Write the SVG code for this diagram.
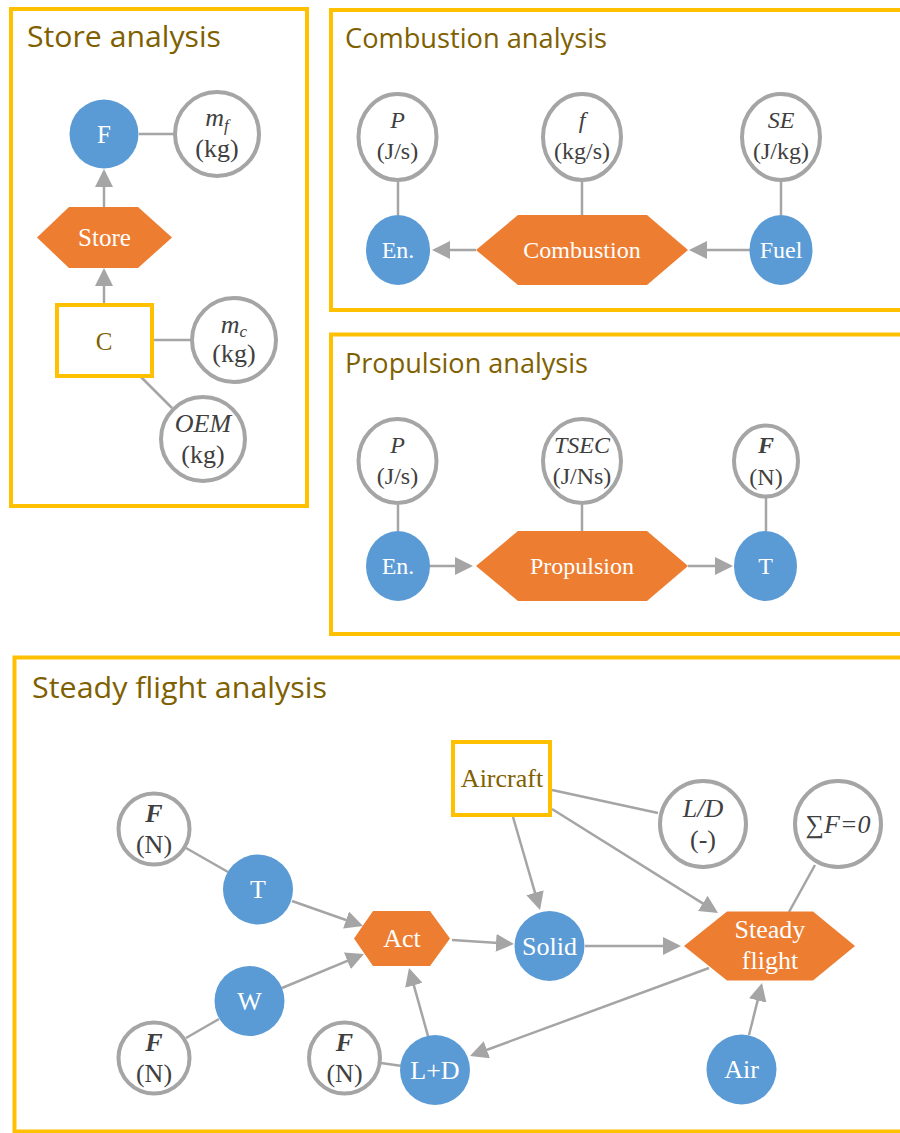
<svg xmlns="http://www.w3.org/2000/svg" width="900" height="1133" viewBox="0 0 900 1133">
<style>
.panel{fill:none;stroke:#FFC000;stroke-width:4}
.title{font-family:"Open Sans","Liberation Sans",sans-serif;fill:#7F6000}
.blue{fill:#5B9BD5}
.orange{fill:#ED7D31}
.param{fill:#fff;stroke:#A5A5A5;stroke-width:4}
.box{fill:#fff;stroke:#FFC000;stroke-width:4}
.wt{font-family:"Liberation Serif","Times New Roman",serif;fill:#fff;text-anchor:middle}
.gt{font-family:"Liberation Serif","Times New Roman",serif;fill:#404040;text-anchor:middle}
.bt{font-family:"Liberation Serif","Times New Roman",serif;fill:#7F6000;text-anchor:middle}
.it{font-style:italic}
.bi{font-style:italic;font-weight:bold}
.ln{stroke:#A5A5A5;stroke-width:2.5;fill:none}
.ar{stroke:#A5A5A5;stroke-width:2.5;fill:none;marker-end:url(#ah)}
</style>
<defs>
<marker id="ah" markerUnits="userSpaceOnUse" markerWidth="18" markerHeight="18" refX="15" refY="9" orient="auto" viewBox="0 0 18 18">
<path d="M0,0 L18,9 L0,18 z" fill="#A5A5A5"/>
</marker>
</defs>
<rect width="900" height="1133" fill="#fff"/>

<!-- panels -->
<g id="panels">
<rect class="panel" x="11" y="9" width="296" height="497"/>
<rect class="panel" x="331" y="10" width="620" height="300"/>
<rect class="panel" x="331" y="334.5" width="620" height="299.5"/>
<rect class="panel" x="14.5" y="657.5" width="940" height="474"/>
<text class="title" x="27" y="47" font-size="30" textLength="194" lengthAdjust="spacingAndGlyphs">Store analysis</text>
<text class="title" x="345" y="48" font-size="28" textLength="262" lengthAdjust="spacingAndGlyphs">Combustion analysis</text>
<text class="title" x="345" y="373" font-size="28" textLength="243" lengthAdjust="spacingAndGlyphs">Propulsion analysis</text>
<text class="title" x="32" y="698" font-size="30" textLength="295" lengthAdjust="spacingAndGlyphs">Steady flight analysis</text>
</g>

<!-- connectors -->
<g id="connectors">
<line class="ln" x1="139" y1="134" x2="175" y2="134"/>
<line class="ln" x1="154" y1="340" x2="192" y2="340"/>
<line class="ln" x1="140" y1="376" x2="172" y2="408"/>
<path class="ar" d="M104,207 L104,172"/>
<path class="ar" d="M104,303 L104,271"/>

<line class="ln" x1="398" y1="182" x2="398" y2="215"/>
<line class="ln" x1="582" y1="182" x2="582" y2="215"/>
<line class="ln" x1="781" y1="182" x2="781" y2="215"/>
<path class="ar" d="M476,250 L435,250"/>
<path class="ar" d="M750,250 L692,250"/>

<line class="ln" x1="398" y1="505" x2="398" y2="531"/>
<line class="ln" x1="582" y1="505" x2="582" y2="531"/>
<line class="ln" x1="766" y1="498" x2="766" y2="531"/>
<path class="ar" d="M430,566 L470,566"/>
<path class="ar" d="M688,566 L730,566"/>

<line class="ln" x1="186" y1="848" x2="228" y2="872"/>
<line class="ln" x1="219" y1="1019" x2="186" y2="1038"/>
<line class="ln" x1="381" y1="1063" x2="402" y2="1066"/>
<line class="ln" x1="552" y1="790" x2="658" y2="813"/>
<line class="ln" x1="815" y1="865" x2="789" y2="912"/>
<path class="ar" d="M292,901 L360.2,925"/>
<path class="ar" d="M282,988 L361.2,955.1"/>
<path class="ar" d="M428,1036 L409.8,970.9"/>
<path class="ar" d="M452,940 L511,943.8"/>
<path class="ar" d="M513,817 L539.2,907.1"/>
<path class="ar" d="M552,809 L715.5,911.4"/>
<path class="ar" d="M585,946 L678,946"/>
<path class="ar" d="M709,968 L472.8,1055"/>
<path class="ar" d="M749,1035 L761.3,985.9"/>
</g>

<!-- Store analysis nodes -->
<g id="store-F"><circle class="blue" cx="104" cy="134" r="34.5"/><text class="wt" x="104" y="143" font-size="25">F</text></g>
<g id="store-mf"><circle class="param" cx="217" cy="134" r="42"/><text class="gt it" x="217" y="126" font-size="26">m<tspan font-size="17" dy="5">f</tspan></text><text class="gt" x="217" y="157" font-size="26">(kg)</text></g>
<g id="store-Store"><polygon class="orange" points="37,237.5 69,207 138,207 172,237.5 138,268 69,268"/><text class="wt" x="104.5" y="246" font-size="25">Store</text></g>
<g id="store-C"><rect class="box" x="57" y="305" width="95" height="71"/><text class="bt" x="104" y="350" font-size="25">C</text></g>
<g id="store-mc"><circle class="param" cx="234" cy="340" r="42"/><text class="gt it" x="234" y="333" font-size="26">m<tspan font-size="17" dy="4">c</tspan></text><text class="gt" x="234" y="362" font-size="26">(kg)</text></g>
<g id="store-OEM"><circle class="param" cx="203" cy="439" r="42"/><text class="gt it" x="203" y="432" font-size="26">OEM</text><text class="gt" x="203" y="463" font-size="26">(kg)</text></g>

<!-- Combustion analysis nodes -->
<g id="comb-P"><ellipse class="param" cx="397.5" cy="137" rx="39" ry="43"/><text class="gt it" x="397.5" y="128" font-size="24">P</text><text class="gt" x="397.5" y="159" font-size="24">(J/s)</text></g>
<g id="comb-f"><ellipse class="param" cx="582" cy="137" rx="39" ry="43"/><text class="gt it" x="582" y="128" font-size="24">f</text><text class="gt" x="582" y="159" font-size="24">(kg/s)</text></g>
<g id="comb-SE"><ellipse class="param" cx="781" cy="137" rx="39" ry="43"/><text class="gt it" x="781" y="128" font-size="24">SE</text><text class="gt" x="781" y="159" font-size="24">(J/kg)</text></g>
<g id="comb-En"><ellipse class="blue" cx="398" cy="250" rx="32" ry="35"/><text class="wt" x="398" y="258" font-size="24">En.</text></g>
<g id="comb-Combustion"><polygon class="orange" points="476,250 518,215 647,215 688,250 647,285 518,285"/><text class="wt" x="582" y="258" font-size="24">Combustion</text></g>
<g id="comb-Fuel"><ellipse class="blue" cx="781" cy="250" rx="31.5" ry="35"/><text class="wt" x="781" y="258" font-size="24">Fuel</text></g>

<!-- Propulsion analysis nodes -->
<g id="prop-P"><ellipse class="param" cx="397.5" cy="461" rx="39" ry="42"/><text class="gt it" x="397.5" y="453" font-size="24">P</text><text class="gt" x="397.5" y="484" font-size="24">(J/s)</text></g>
<g id="prop-TSEC"><ellipse class="param" cx="582" cy="461" rx="39" ry="42"/><text class="gt it" x="582" y="453" font-size="24">TSEC</text><text class="gt" x="582" y="484" font-size="24">(J/Ns)</text></g>
<g id="prop-F"><ellipse class="param" cx="766" cy="461" rx="32" ry="35.5"/><text class="gt bi" x="766" y="453" font-size="24">F</text><text class="gt" x="766" y="485" font-size="24">(N)</text></g>
<g id="prop-En"><ellipse class="blue" cx="398" cy="566" rx="32" ry="35"/><text class="wt" x="398" y="574" font-size="24">En.</text></g>
<g id="prop-Propulsion"><polygon class="orange" points="476,566 518,531 647,531 688,566 647,601 518,601"/><text class="wt" x="582" y="574" font-size="24">Propulsion</text></g>
<g id="prop-T"><ellipse class="blue" cx="765.5" cy="566" rx="31.5" ry="35"/><text class="wt" x="765.5" y="574" font-size="24">T</text></g>

<!-- Steady flight analysis nodes -->
<g id="sf-F1"><circle class="param" cx="154" cy="829" r="35.5"/><text class="gt bi" x="154" y="822" font-size="26">F</text><text class="gt" x="154" y="853" font-size="26">(N)</text></g>
<g id="sf-T"><circle class="blue" cx="258" cy="889.5" r="35"/><text class="wt" x="258" y="898" font-size="26">T</text></g>
<g id="sf-W"><circle class="blue" cx="249.5" cy="1001" r="35"/><text class="wt" x="249.5" y="1010" font-size="26">W</text></g>
<g id="sf-F2"><circle class="param" cx="154" cy="1058" r="35.5"/><text class="gt bi" x="154" y="1051" font-size="26">F</text><text class="gt" x="154" y="1082" font-size="26">(N)</text></g>
<g id="sf-F3"><circle class="param" cx="344.5" cy="1058" r="35.5"/><text class="gt bi" x="344.5" y="1051" font-size="26">F</text><text class="gt" x="344.5" y="1082" font-size="26">(N)</text></g>
<g id="sf-LD-node"><circle class="blue" cx="435" cy="1070" r="35"/><text class="wt" x="435" y="1079" font-size="26">L+D</text></g>
<g id="sf-Act"><polygon class="orange" points="354,938.5 373,911 430,911 450,938.5 430,966 373,966"/><text class="wt" x="402" y="947" font-size="26">Act</text></g>
<g id="sf-Aircraft"><rect class="box" x="453" y="742" width="97" height="73"/><text class="bt" x="502" y="787" font-size="26">Aircraft</text></g>
<g id="sf-LD"><circle class="param" cx="703" cy="824" r="43"/><text class="gt it" x="703" y="817" font-size="26">L/D</text><text class="gt" x="703" y="848" font-size="26">(-)</text></g>
<g id="sf-SumF"><circle class="param" cx="838" cy="824" r="43"/><text class="gt it" x="838" y="833" font-size="26">∑F=0</text></g>
<g id="sf-Solid"><circle class="blue" cx="549.5" cy="946" r="35"/><text class="wt" x="549.5" y="955" font-size="26">Solid</text></g>
<g id="sf-Steady"><polygon class="orange" points="684,946 727,911.5 813,911.5 855,946 813,980.5 727,980.5"/><text class="wt" x="770" y="938" font-size="26">Steady</text><text class="wt" x="770" y="969" font-size="26">flight</text></g>
<g id="sf-Air"><circle class="blue" cx="741.5" cy="1069.5" r="35"/><text class="wt" x="741.5" y="1078" font-size="26">Air</text></g>
</svg>
